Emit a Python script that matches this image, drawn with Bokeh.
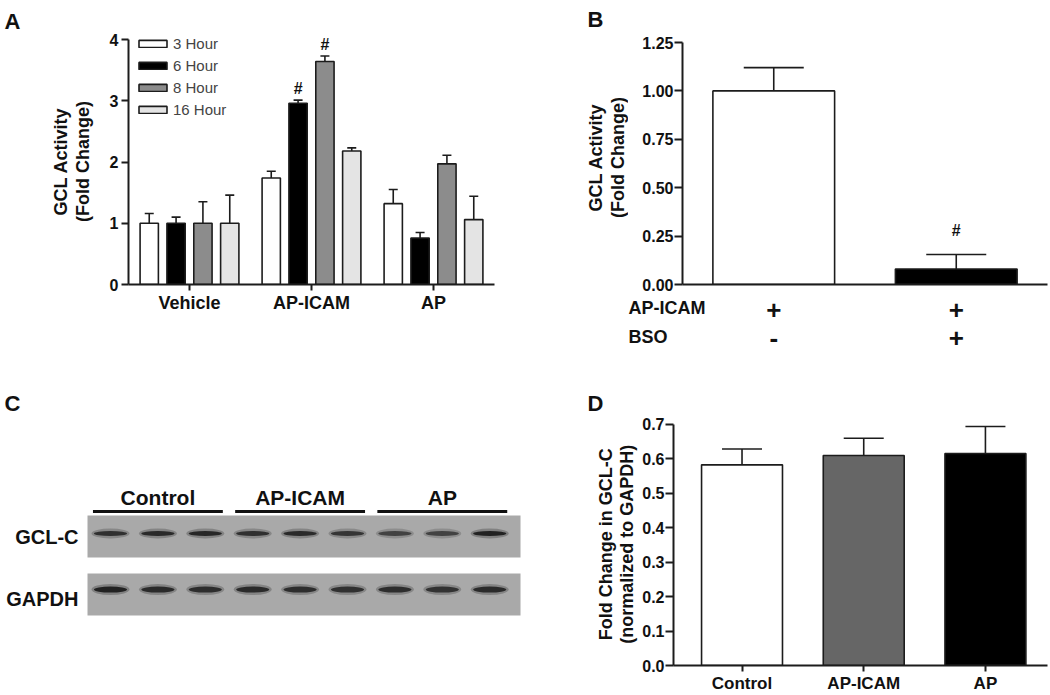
import math
from bokeh.plotting import figure
from bokeh.models import (ColumnDataSource, Range1d, FactorRange, FixedTicker, Whisker,
                          Legend, TeeHead, NumeralTickFormatter)
from bokeh.layouts import row, column
from bokeh.transform import dodge
from bokeh.core.properties import value
from bokeh.embed import file_html
from bokeh.resources import INLINE

FONT = "Liberation Sans"
INK = "#1c1c1c"
TXT = "#111111"

# ---------------- Panel A data ----------------
a_groups = ["Vehicle", "AP-ICAM", "AP"]
a_series = ["3 Hour", "6 Hour", "8 Hour", "16 Hour"]
a_3h = [1.00, 1.74, 1.32]
a_6h = [1.00, 2.96, 0.76]
a_8h = [1.00, 3.64, 1.97]
a_16h = [1.00, 2.18, 1.06]
a_3h_err = [0.16, 0.11, 0.23]
a_6h_err = [0.10, 0.05, 0.09]
a_8h_err = [0.35, 0.09, 0.14]
a_16h_err = [0.46, 0.05, 0.38]
a_3h_sig = ["", "", ""]
a_6h_sig = ["", "#", ""]
a_8h_sig = ["", "#", ""]
a_16h_sig = ["", "", ""]
a_colors = ["#ffffff", "#000000", "#8c8c8c", "#e4e4e4"]
a_yticks = [0, 1, 2, 3, 4]
a_ylabel = ["GCL Activity", "(Fold Change)"]

# ---------------- Panel B data ----------------
b_bars = ["AP-ICAM", "AP-ICAM + BSO"]
b_values = [1.00, 0.08]
b_err = [0.12, 0.075]
b_sig = ["", "#"]
b_colors = ["#ffffff", "#000000"]
b_rows = ["AP-ICAM", "BSO"]
b_apicam = ["+", "+"]
b_bso = ["-", "+"]
b_yticks = [0.0, 0.25, 0.5, 0.75, 1.0, 1.25]
b_ylabel = ["GCL Activity", "(Fold Change)"]

# ---------------- Panel C data (western blot) ----------------
c_groups = ["Control", "AP-ICAM", "AP"]
c_lanes = [1, 2, 3, 4, 5, 6, 7, 8, 9]
c_rows = ["GCL-C", "GAPDH"]
c_gcl = [0.80, 0.85, 0.88, 0.80, 0.85, 0.75, 0.65, 0.65, 0.92]
c_gapdh = [0.92, 0.85, 0.82, 0.85, 0.82, 0.80, 0.82, 0.78, 0.85]

# ---------------- Panel D data ----------------
d_groups = ["Control", "AP-ICAM", "AP"]
d_values = [0.582, 0.609, 0.615]
d_err = [0.046, 0.050, 0.078]
d_colors = ["#ffffff", "#666666", "#000000"]
d_yticks = [0.0, 0.1, 0.2, 0.3, 0.4, 0.5, 0.6, 0.7]
d_ylabel = ["Fold Change in GCL-C", "(normalized to GAPDH)"]


def make_fig(w, h, xr, yr, left=0, right=0, top=0, bottom=0, axes=True):
    kw = dict(width=w, height=h, x_range=xr, y_range=yr, output_backend="svg",
              toolbar_location=None, min_border_left=left, min_border_right=right,
              min_border_top=top, min_border_bottom=bottom)
    if not axes:
        kw.update(x_axis_type=None, y_axis_type=None)
    p = figure(**kw)
    p.outline_line_color = None
    p.background_fill_color = "white"
    p.border_fill_color = "white"
    p.xgrid.visible = False
    p.ygrid.visible = False
    if axes:
        for ax in (p.xaxis[0], p.yaxis[0]):
            ax.axis_line_width = 2
            ax.axis_line_color = INK
            ax.major_tick_line_width = 2
            ax.major_tick_line_color = INK
            ax.major_tick_in = 0
            ax.major_tick_out = 7
            ax.minor_tick_line_color = None
            ax.major_label_text_font = FONT
            ax.major_label_text_font_style = "bold"
            ax.major_label_text_font_size = "16px"
            ax.major_label_text_color = TXT
            ax.major_label_standoff = 3
    return p


def txt(p, x, y, text, size, angle=0.0, align="left", baseline="alphabetic", bold=True):
    p.text(x=x, y=y, text=text, angle=angle, text_align=align, text_baseline=baseline,
           text_font=value(FONT), text_font_style="bold" if bold else "normal",
           text_font_size=f"{size}px", text_color=TXT)


def gutter(w, h, bottom):
    # text-only strip: data units are its own pixels (y grows downward);
    # same bottom border as its neighbour so that the aligned frames coincide
    return make_fig(w, h, Range1d(0, w), Range1d(h - bottom, 0), bottom=bottom, axes=False)


def whisk(p, base, lower, upper, src, size):
    p.add_layout(Whisker(base=base, lower=lower, upper=upper, source=src, dimension="height",
                         line_color=INK, line_width=1.6, lower_head=None,
                         upper_head=TeeHead(size=size, line_color=INK, line_width=1.6)))


# ================= Panel A =================
A_PX = 61.25          # px per fold-change unit
gA = gutter(100, 380, 96)
txt(gA, [4], [21], ["A"], 22)
txt(gA, [60, 82], [161, 161], a_ylabel, 18, angle=math.pi / 2, align="center", baseline="middle")

pA = make_fig(460, 380, FactorRange(factors=a_groups, range_padding=0, factor_padding=0),
              Range1d(0, 284 / A_PX), left=28, right=66, top=0, bottom=96)
pA.yaxis.bounds = (0, 4)
pA.yaxis.ticker = FixedTicker(ticks=a_yticks)
pA.xaxis.major_label_text_font_size = "18px"
pA.xaxis.major_tick_out = 6
pA.xaxis.major_label_standoff = 2

series_vals = [a_3h, a_6h, a_8h, a_16h]
series_err = [a_3h_err, a_6h_err, a_8h_err, a_16h_err]
series_sig = [a_3h_sig, a_6h_sig, a_8h_sig, a_16h_sig]
data_a = dict(group=a_groups)
for i in range(4):
    data_a[f"v{i}"] = series_vals[i]
    data_a[f"c{i}"] = [v + e for v, e in zip(series_vals[i], series_err[i])]
    data_a[f"s{i}"] = series_sig[i]
src_a = ColumnDataSource(data_a)

offsets = [-0.33, -0.11, 0.11, 0.33]
bars_a = []
for i in range(4):
    xx = dodge("group", offsets[i], range=pA.x_range)
    r = pA.vbar(x=xx, top=f"v{i}", width=0.15, bottom=0, source=src_a,
                fill_color=a_colors[i], line_color=INK, line_width=1.6)
    bars_a.append(r)
    whisk(pA, xx, f"v{i}", f"c{i}", src_a, 9)
    pA.text(x=xx, y=f"c{i}", text=f"s{i}", source=src_a, y_offset=-12,
            text_align="center", text_baseline="middle", text_font=value(FONT),
            text_font_size="16px", text_font_style="bold", text_color=TXT)

legA = Legend(items=[(a_series[i], [bars_a[i]]) for i in range(4)], location=(7, 166),
              border_line_color=None, background_fill_alpha=0, glyph_width=35, glyph_height=9,
              label_text_font=FONT, label_text_font_size="15px", label_height=13,
              spacing=5, padding=0, margin=0, label_standoff=3)
pA.add_layout(legA)

# ================= Panel B =================
B_PX = 182.5          # px per bar slot
B_PY = 193.6          # px per fold-change unit
gB = gutter(68, 294, 10)
txt(gB, [27], [19], ["B"], 22)
txt(gB, [35, 57], [157, 157], b_ylabel, 18, angle=math.pi / 2, align="center", baseline="middle")

pB = make_fig(422, 294, Range1d(-0.5, 1.5), Range1d(0, 284 / B_PY), left=54, right=3, top=0, bottom=10)
pB.yaxis.bounds = (0, 1.25)
pB.yaxis.ticker = FixedTicker(ticks=b_yticks)
pB.yaxis.formatter = NumeralTickFormatter(format="0.00")
pB.yaxis.major_tick_out = 8
pB.yaxis.major_label_standoff = 1
pB.xaxis.ticker = FixedTicker(ticks=[])
pB.xaxis.major_tick_out = 0
pB.xaxis.major_label_standoff = 0

b_x = list(range(len(b_bars)))
src_b = ColumnDataSource(dict(x=b_x, v=b_values, c=[v + e for v, e in zip(b_values, b_err)],
                              s=b_sig, color=b_colors, ap=b_apicam, bso=b_bso))
pB.vbar(x="x", top="v", width=0.667, bottom=0, source=src_b, fill_color="color",
        line_color=INK, line_width=1.6)
whisk(pB, "x", "v", "c", src_b, 60)
pB.text(x="x", y="c", text="s", source=src_b, y_offset=-24, text_align="center",
        text_baseline="middle", text_font=value(FONT), text_font_size="16px",
        text_font_style="bold", text_color=TXT)

# B treatment table: shares the bar x scale (axis starts 122 px into the panel)
tB = make_fig(490, 86, Range1d(-0.5 - 122 / B_PX, 1.5 + 3 / B_PX), Range1d(-71 / 28, 15 / 28),
              axes=False)
table_y = [0, -1]
tB.text(x="x", y=table_y[0], text="ap", source=src_b, text_align="center",
        text_baseline="middle", text_font=value(FONT), text_font_style="bold",
        text_font_size="26px", text_color=TXT)
tB.text(x="x", y=table_y[1], text="bso", source=src_b, text_align="center",
        text_baseline="middle", text_font=value(FONT), text_font_style="bold",
        text_font_size="26px", text_color=TXT)
txt(tB, [-0.5 - 54 / B_PX] * 2, [table_y[0] + 0.06, table_y[1] + 0.03], b_rows, 18,
    baseline="middle")

# ================= Panel C (blot) =================
C_PX_X, C_PX_Y = 47.4, 58.0
pC = make_fig(560, 315, Range1d(1 - 110 / C_PX_X, 1 + 450 / C_PX_X),
              Range1d(-159 / C_PX_Y, 156 / C_PX_Y), axes=False)
row_y = [0, -1]
band_dy = [0.052, 0.086]
strip_left = c_lanes[0] - 0.485
strip_right = c_lanes[-1] + 0.65
pC.quad(left=[strip_left] * 2, right=[strip_right] * 2,
        top=[y + 0.362 for y in row_y], bottom=[y - 0.362 for y in row_y],
        fill_color="#a9a9a9", line_color=None)
for ri, inten in enumerate([c_gcl, c_gapdh]):
    ys = [row_y[ri] + band_dy[ri]] * len(c_lanes)
    src_c = ColumnDataSource(dict(x=c_lanes, y=ys, a=inten,
                                  a2=[0.35 * v for v in inten]))
    pC.ellipse(x="x", y="y", width=0.8, height=11 if ri else 10, height_units="screen",
               fill_color="#303030", fill_alpha="a2", line_color=None, source=src_c)
    pC.ellipse(x="x", y="y", width=0.70, height=6 if ri else 5, height_units="screen",
               fill_color="#1a1a1a", fill_alpha="a", line_color=None, source=src_c)

grp_first = [c_lanes[3 * g] for g in range(3)]
grp_last = [c_lanes[3 * g + 2] for g in range(3)]
grp_mid = [c_lanes[3 * g + 1] for g in range(3)]
pC.segment(x0=[f - 0.37 for f in grp_first], x1=[l + 0.37 for l in grp_last],
           y0=[0.431] * 3, y1=[0.431] * 3, line_width=3.2, line_color=TXT)
txt(pC, grp_mid, [0.672] * 3, c_groups, 21, align="center", baseline="middle")
txt(pC, [0.325] * 2, [row_y[0] - 0.017, row_y[1] - 0.069], c_rows, 20, align="right",
    baseline="middle")
txt(pC, [1 + (4 - 110) / C_PX_X], [(536 - 403) / C_PX_Y], ["C"], 22)

# ================= Panel D =================
D_PY = 347.2
gD = gutter(78, 315, 28)
txt(gD, [27], [23], ["D"], 22)
txt(gD, [45, 66], [165, 165], d_ylabel, 18, angle=math.pi / 2, align="center", baseline="middle")

pD = make_fig(412, 315, Range1d(-0.563, 2.51), Range1d(0, 287 / D_PY), left=35, right=3, top=0, bottom=28)
pD.yaxis.bounds = (0, 0.7)
pD.yaxis.ticker = FixedTicker(ticks=d_yticks)
pD.yaxis.formatter = NumeralTickFormatter(format="0.0")
pD.yaxis.major_tick_out = 8
pD.yaxis.major_label_standoff = 1
d_x = list(range(len(d_groups)))
pD.xaxis.ticker = FixedTicker(ticks=d_x)
pD.xaxis.major_label_overrides = {i: g for i, g in enumerate(d_groups)}
pD.xaxis.major_label_text_font_size = "17px"
pD.xaxis.major_tick_out = 6
pD.xaxis.major_label_standoff = 2
src_d = ColumnDataSource(dict(x=d_x, v=d_values, c=[v + e for v, e in zip(d_values, d_err)],
                              color=d_colors))
pD.vbar(x="x", top="v", width=0.665, bottom=0, source=src_d, fill_color="color",
        line_color=INK, line_width=1.6)
whisk(pD, "x", "v", "c", src_d, 40)

layout = row(column(row(gA, pA), pC),
             column(row(gB, pB), tB, row(gD, pD)))
open("out.html", "w").write(file_html(layout, INLINE))
